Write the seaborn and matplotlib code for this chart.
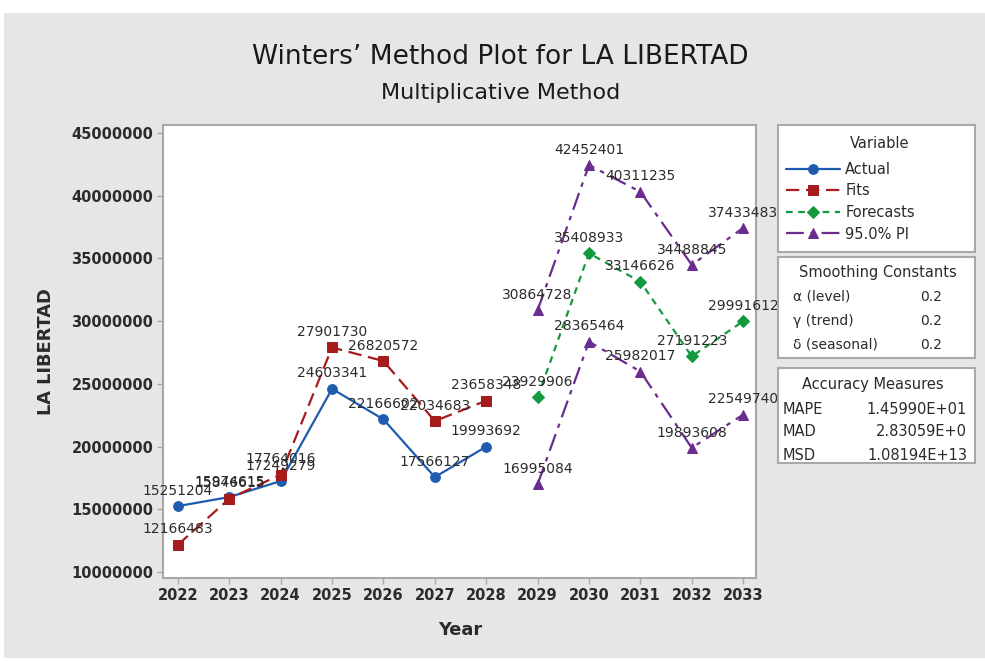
import matplotlib
matplotlib.use("Agg")
import matplotlib.pyplot as plt
import matplotlib.patches as mpatches
import seaborn as sns
import pandas as pd

# data
years_fit = [2022, 2023, 2024, 2025, 2026, 2027, 2028]
actual = [15251204, 15974615, 17249279, 24603341, 22166602, 17566127, 19993692]
fits = [12166483, 15846615, 17764016, 27901730, 26820572, 22034683, 23658348]

years_fc = [2029, 2030, 2031, 2032, 2033]
forecasts = [23929906, 35408933, 33146626, 27191223, 29991612]
pi_upper = [30864728, 42452401, 40311235, 34488845, 37433483]
pi_lower = [16995084, 28365464, 25982017, 19893608, 22549740]

smoothing_names = ["α (level)", "γ (trend)", "δ (seasonal)"]
smoothing_vals = ["0.2", "0.2", "0.2"]
accuracy_names = ["MAPE", "MAD", "MSD"]
accuracy_vals = ["1.45990E+01", "2.83059E+0", "1.08194E+13"]

W, H = 985, 661
def fx(px):
    return px / W
def fy(py):
    return 1 - py / H

sns.set_style("white")
plt.rcParams['font.family'] = ['DejaVu Sans']
text_col = "#2b2b2b"
frame_col = "#a8a8a8"

fig = plt.figure(figsize=(W / 100, H / 100), dpi=100, facecolor="white")
fig.patches.append(mpatches.Rectangle((fx(4), fy(658)), fx(981), (658 - 13) / H,
                                      transform=fig.transFigure, facecolor="#e6e6e6",
                                      edgecolor="none", zorder=-10))

ax = fig.add_axes([fx(163), fy(578), fx(756) - fx(163), fy(125) - fy(578)])
ax.set_facecolor("white")

series = [
    ("Actual", years_fit, actual, "#1f5cb0", "o", "-", 7),
    ("Fits", years_fit, fits, "#a61c1c", "s", (0, (6, 3)), 7),
    ("Forecasts", years_fc, forecasts, "#129a3c", "D", (0, (3, 2.5)), 6),
    ("95.0% PI", years_fc, pi_upper, "#6b2c8f", "^", (0, (8, 3, 2, 3)), 7),
    ("_lower", years_fc, pi_lower, "#6b2c8f", "^", (0, (8, 3, 2, 3)), 7),
]

for name, xs, ys, col, mk, ls, ms in series:
    df = pd.DataFrame({"Year": xs, "Value": ys})
    sns.lineplot(data=df, x="Year", y="Value", ax=ax, color=col, marker=mk,
                 linestyle=ls, linewidth=1.6, markersize=ms, markeredgecolor=col,
                 label=name)
    for x, v in zip(xs, ys):
        ax.annotate(str(v), (x, v), xytext=(0, 6), textcoords="offset points",
                    ha="center", va="bottom", fontsize=10, color=text_col)

handles, labels = ax.get_legend_handles_labels()
ax.get_legend().remove()

ax.set_xlim(2021.71, 2033.25)
ax.set_ylim(9.52e6, 45.64e6)
ax.set_xticks(range(2022, 2034))
ax.set_yticks(range(10000000, 45000001, 5000000))
ax.set_yticklabels([str(v) for v in range(10000000, 45000001, 5000000)])
ax.tick_params(axis="both", which="major", direction="out", length=4, width=1,
               color=frame_col, labelsize=10.5, labelcolor=text_col, pad=3,
               left=True, bottom=True)
for lab in ax.get_xticklabels() + ax.get_yticklabels():
    lab.set_fontweight("bold")
for sp in ax.spines.values():
    sp.set_color(frame_col)
    sp.set_linewidth(1.5)
ax.set_xlabel("")
ax.set_ylabel("")

fig.text(fx(460), fy(630), "Year", ha="center", va="center", fontsize=12.8,
         fontweight="bold", color=text_col)
fig.text(fx(46), fy(352), "LA LIBERTAD", ha="center", va="center", rotation=90,
         fontsize=12.8, fontweight="bold", color=text_col)

fig.text(fx(500), fy(57), "Winters\u2019 Method Plot for LA LIBERTAD", ha="center",
         va="center", fontsize=19, color="#1a1a1a")
fig.text(fx(501), fy(93), "Multiplicative Method", ha="center", va="center",
         fontsize=16, color="#1a1a1a")

def box(y0, y1):
    b = fig.add_axes([fx(778), fy(y1), fx(975) - fx(778), fy(y0) - fy(y1)])
    b.set_facecolor("white")
    b.set_xticks([])
    b.set_yticks([])
    for sp in b.spines.values():
        sp.set_color(frame_col)
        sp.set_linewidth(1.5)
    return b

b1 = box(125, 252)
fig.text(fx(880), fy(143), "Variable", ha="center", va="center", fontsize=10.5,
         color=text_col)
leg = b1.legend(handles, labels, loc="upper left", bbox_to_anchor=(-0.01, 0.79),
                frameon=False, handlelength=3.7, labelspacing=0.45,
                handletextpad=0.35, fontsize=10.5, borderaxespad=0.3)
for t in leg.get_texts():
    t.set_color(text_col)

box(257, 358)
fig.text(fx(878), fy(273), "Smoothing Constants", ha="center", va="center",
         fontsize=10.5, color=text_col)
for i, (n, v) in enumerate(zip(smoothing_names, smoothing_vals)):
    fig.text(fx(793), fy(297 + 24 * i), n, ha="left", va="center", fontsize=10,
             color=text_col)
    fig.text(fx(920), fy(297 + 24 * i), v, ha="left", va="center", fontsize=10,
             color=text_col)

box(368, 463)
fig.text(fx(873), fy(385), "Accuracy Measures", ha="center", va="center",
         fontsize=10.5, color=text_col)
for i, (n, v) in enumerate(zip(accuracy_names, accuracy_vals)):
    fig.text(fx(783), fy(409 + 23 * i), n, ha="left", va="center", fontsize=10.5,
             color=text_col)
    fig.text(fx(967), fy(409 + 23 * i), v, ha="right", va="center", fontsize=10.5,
             color=text_col)

fig.savefig("out.png", dpi=100, facecolor=fig.get_facecolor())
